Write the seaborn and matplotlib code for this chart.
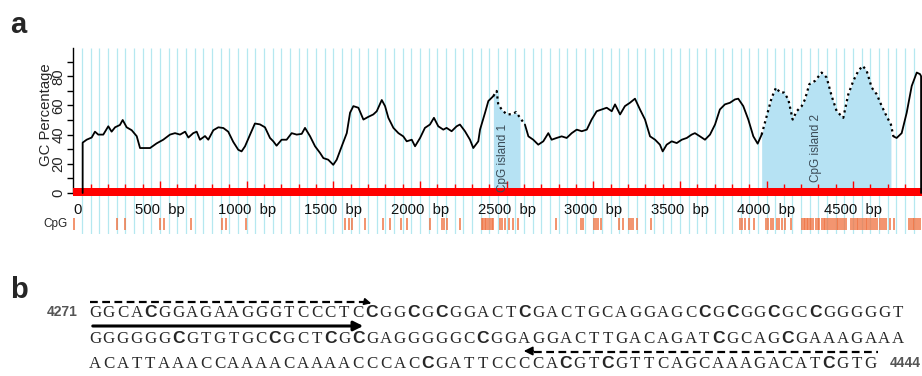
import matplotlib
matplotlib.use("Agg")
import matplotlib.pyplot as plt
import numpy as np
import pandas as pd
import seaborn as sns

# ---- data ----
# GC percentage along the sequence (bp, %GC)
gc_bp = [54, 54, 77, 106, 125, 144, 173, 202, 221, 241, 269, 285, 308, 337, 366, 385, 414, 443,
         481, 519, 558, 587, 616, 645, 664, 692, 712, 731, 760, 779, 808, 837, 866, 894, 923,
         952, 971, 991, 1020, 1048, 1077, 1106,
         1135, 1154, 1173, 1202, 1231, 1260, 1289, 1318, 1337, 1366, 1395, 1424, 1443, 1471,
         1500, 1520, 1549, 1578, 1597, 1616, 1645, 1674, 1703, 1731, 1751, 1780, 1799, 1818,
         1847, 1876, 1904, 1924, 1953, 1972, 2001, 2029, 2058, 2081, 2106, 2135, 2154, 2183,
         2212, 2231, 2260, 2289, 2308, 2337,
         2347, 2376, 2395, 2424, 2443, 2452, 2472, 2501, 2530, 2555, 2578, 2606, 2626, 2654,
         2683, 2712, 2741, 2760, 2789, 2818, 2847, 2876, 2905, 2934, 2963, 2991, 3020, 3049,
         3078, 3107, 3126, 3155, 3183, 3212, 3241, 3270, 3299, 3328, 3357, 3385, 3401, 3424,
         3453, 3482, 3511, 3540, 3568,
         3587, 3616, 3645, 3674, 3703, 3731, 3760, 3789, 3818, 3837, 3866, 3895, 3924, 3949,
         3972, 4001, 4030, 4055, 4078, 4101, 4126, 4151, 4174, 4203, 4222, 4247, 4280, 4318,
         4347, 4376, 4405, 4443, 4472, 4501, 4530, 4555, 4578, 4607, 4636, 4665, 4693, 4718,
         4732, 4751, 4780, 4809, 4838, 4867, 4886, 4892, 4892]
gc_pct = [0, 34.5, 36.5, 38, 42, 40, 40, 45.7, 42, 45, 46.6, 50, 45, 43, 38.9, 30.8, 30.8, 30.8,
          34, 36.5, 40, 41, 40, 42, 38, 41, 42, 36.5, 39, 36.5, 43, 45, 44.5, 42, 35,
          29.6, 28.5, 32, 40, 47.6, 47, 45,
          37.7, 35.4, 32.4, 36.5, 36.5, 41, 40, 40.5, 44.6, 38.9, 32, 27.4, 23.9, 22.8,
          19.3, 22.8, 32, 41, 55, 59.5, 58.4, 50.3, 52.2, 53.8, 56, 63.7, 59.5, 51.5,
          44.6, 41, 38.8, 35.4, 36.5, 32, 37.7, 44.6, 46.9, 51.5, 45.7, 43.4, 44.6, 42.3,
          45.7, 46.9, 42.3, 36.5, 30.8, 35.4,
          43.4, 55, 63, 66.4, 69.9, 60.7, 57.2, 53.8, 54, 55.4, 51.5, 46.9, 38.8, 36.5,
          33.1, 35.4, 41, 36.5, 37.7, 38.8, 37.7, 41, 43.4, 42.3, 43.4, 50.3, 56, 57.2,
          58.4, 56, 60.7, 53.8, 59.5, 61.8, 64.6, 57.2, 50.3, 38.8, 36.5, 33.1, 28.5, 33.1,
          35.4, 34.2, 36.5, 37.7, 40,
          41, 38.8, 36.5, 40, 46.9, 57.2, 60.7, 61.8, 64.1, 64.6, 59.5, 50.3, 38.8, 33.8,
          40, 52.6, 65.3, 72.2, 68.8, 68.8, 64.1, 50.3, 56, 59.5, 64.1, 74.5, 76.8, 82.5,
          79.1, 66.4, 56, 51.5, 67.6, 76.8, 83.7, 87.1, 83.7, 72.2, 67.6, 59.5, 52.6, 46.9,
          38.8, 37.7, 41, 55, 73.3, 82.5, 81.4, 80, 0]

# CpG dinucleotide positions (bp)
cpg_bp = [4, 252, 300, 500, 523, 677, 856, 882, 996,
          1568, 1590, 1610, 1683, 1785, 1826, 1890, 1924, 2058, 2126, 2140, 2154, 2231,
          2357, 2366, 2375, 2384, 2393, 2404, 2416, 2424, 2462, 2476, 2491, 2516, 2539, 2568,
          2787, 2928, 2942, 3006, 3018, 3030, 3043, 3148, 3174, 3205, 3218, 3232, 3250, 3332,
          3848, 3860, 3874, 3898, 3930, 3998, 4010, 4028, 4040, 4058, 4072, 4090, 4107, 4140,
          4205, 4214, 4222, 4231, 4240, 4249, 4258, 4268, 4283, 4296, 4305, 4318, 4330, 4340,
          4350, 4362, 4373, 4385, 4394, 4404, 4414, 4424, 4436, 4446, 4456,
          4490, 4500, 4510, 4520, 4530, 4540, 4550, 4560, 4572, 4582, 4592, 4604, 4614, 4626,
          4640, 4655, 4668, 4680, 4692,
          4713, 4738, 4822, 4832, 4843, 4853, 4864, 4876, 4888]

island_start = [2410, 3970]
island_end = [2580, 4720]
island_names = ["CpG island 1", "CpG island 2"]

bp_tick_pos = [0, 500, 1000, 1500, 2000, 2500, 3000, 3500, 4000, 4500]
bp_tick_labels = ["0", "500  bp", "1000  bp", "1500  bp", "2000  bp", "2500  bp",
                  "3000  bp", "3500  bp", "4000  bp", "4500  bp"]
gc_ticks = [0, 20, 40, 60, 80]

seq_lines = ["GGCACGGAGAAGGGTCCCTCCGGCGCGGACTCGACTGCAGGAGCCGCGGCGCCGGGGGT",
             "GGGGGGCGTGTGCCGCTCGCGAGGGGGCCGGAGGACTTGACAGATCGCAGCGAAAGAAA",
             "ACATTAAACCAAAACAAAACCCACCGATTCCCCACGTCGTTCAGCAAAGACATCGTG"]
seq_first, seq_last = "4271", "4444"

# ---- layout (pixels of the 922x376 reference) ----
W, H = 922, 376
X0, PX_BP = 73.3, 0.1733      # x pixel of 0 bp, pixels per bp
Y0, PX_PCT = 193.0, 1.46      # y pixel of 0 %, pixels per %
TOP, BOTTOM = 48, 234


def pct(y_px):
    return (Y0 - y_px) / PX_PCT


sns.set_style("white")
plt.rcParams["font.family"] = ["Liberation Sans", "DejaVu Sans"]

fig = plt.figure(figsize=(W / 100, H / 100), dpi=100)
fig.patch.set_facecolor("white")

ov = fig.add_axes([0, 0, 1, 1])
ov.set_xlim(0, W)
ov.set_ylim(H, 0)
ov.axis("off")

ax = fig.add_axes([X0 / W, 1 - BOTTOM / H, (W - X0) / W, (BOTTOM - TOP) / H])
xmax = (W - X0) / PX_BP
ax.set_xlim(0, xmax)
ax.set_ylim(pct(BOTTOM), pct(TOP))
ax.patch.set_alpha(0)

# light cyan ruler lines every 50 bp
ax.vlines(np.arange(50, xmax, 50), pct(BOTTOM), pct(TOP), color="#b5e8f0", lw=0.9, zorder=0)

df = pd.DataFrame({"bp": gc_bp, "gc": gc_pct})
in_island = np.zeros(len(df), dtype=bool)
for s, e in zip(island_start, island_end):
    m = (df.bp >= s) & (df.bp <= e)
    in_island |= m.values
    ax.fill_between(df.bp[m], 0, df.gc[m], color="#b6e2f3", lw=0, zorder=1)

# GC curve, dotted inside the islands
seg = np.concatenate([[0], np.cumsum(in_island[1:] != in_island[:-1])])
for sid in np.unique(seg):
    idx = np.where(seg == sid)[0]
    stop = min(idx[-1] + 1, len(df) - 1)
    part = df.iloc[idx[0]:stop + 1]
    dotted = in_island[idx[0]]
    sns.lineplot(data=part, x="bp", y="gc", ax=ax, color="black", estimator=None, sort=False,
                 legend=False, lw=1.6 if dotted else 1.3,
                 linestyle=(0, (1, 1.6)) if dotted else "-", zorder=4)

# red ruler bar with ticks
ax.axhspan(pct(196), pct(188), color="#ff0000", lw=0, zorder=3)
ruler = np.arange(100, xmax, 100)
ax.vlines(ruler, pct(189), [pct(180.5) if r % 500 == 0 else pct(183.5) for r in ruler],
          color="#ff0000", lw=1, zorder=3)

# CpG sites
ax.vlines(cpg_bp, pct(218), pct(230), color="#f07545", lw=1.1, zorder=2)

for s, e, name, ly in zip(island_start, island_end, island_names, [pct(158), pct(148)]):
    ax.text(s + 0.42 * (e - s), ly, name, rotation=90, ha="center", va="center",
            fontsize=8.5, color="#3a4a55", zorder=5)

for p, lab in zip(bp_tick_pos, bp_tick_labels):
    ax.text(p, pct(210), lab, ha="left" if p == 0 else "center", va="center",
            fontsize=10.7, color="#111111", clip_on=False)

for side in ["top", "right", "bottom"]:
    ax.spines[side].set_visible(False)
ax.spines["left"].set_bounds(0, pct(TOP))
ax.spines["left"].set_color("black")
ax.spines["left"].set_linewidth(1)
ax.set_xticks([])
ax.set_yticks(gc_ticks)
ax.set_yticks([10, 30, 50, 70, 90], minor=True)
ax.set_yticklabels([str(t) for t in gc_ticks], rotation=90, va="center")
ax.tick_params(axis="y", which="both", direction="out", length=4, width=1, color="black",
               labelsize=10.7, pad=1.5, left=True)
ax.set_xlabel("")
ax.set_ylabel("")

ov.text(46, 115, "GC Percentage", rotation=90, ha="center", va="center", fontsize=10.7)
ov.text(68, 224, "CpG", ha="right", va="center", fontsize=8.5)
ov.text(10, 33, "a", fontsize=21, fontweight="bold", va="baseline")
ov.text(10, 298, "b", fontsize=21, fontweight="bold", va="baseline")

# ---- panel b: sequence ----
SX, PITCH = 88, 13.85
baselines = [317, 343, 368]
for line, base in zip(seq_lines, baselines):
    for i, ch in enumerate(line):
        cpg = ch == "C" and i + 1 < len(line) and line[i + 1] == "G"
        if cpg:
            ov.text(SX + PITCH * (i + 0.5), base, ch, ha="center", va="baseline",
                    fontsize=12.5, fontweight="bold", family=["Liberation Sans", "DejaVu Sans"])
        else:
            ov.text(SX + PITCH * (i + 0.5), base, ch, ha="center", va="baseline",
                    fontsize=12.2, family=["Liberation Serif", "DejaVu Serif"], color="#2a2a2a")

ov.text(78, 316, seq_first, ha="right", va="baseline", fontsize=10, fontweight="bold", color="#555555")
ov.text(890, 367, seq_last, ha="left", va="baseline", fontsize=10, fontweight="bold", color="#555555")

# primer arrows
ov.plot([90, 366], [302, 302], color="black", lw=1.6, linestyle=(0, (3.5, 2)))
ov.annotate("", xy=(374, 304), xytext=(366, 302),
            arrowprops=dict(arrowstyle="-|>", color="black", lw=1.2, mutation_scale=10))
ov.annotate("", xy=(366, 326), xytext=(90, 326),
            arrowprops=dict(arrowstyle="-|>", color="black", lw=2.2, mutation_scale=14))
ov.plot([534, 878], [352, 352], color="black", lw=1.6, linestyle=(0, (3.5, 2)))
ov.annotate("", xy=(521, 351), xytext=(536, 351),
            arrowprops=dict(arrowstyle="-|>", color="black", lw=1.2, mutation_scale=13))
ov.annotate("", xy=(543, 385), xytext=(878, 385),
            arrowprops=dict(arrowstyle="-|>", color="black", lw=2.2, mutation_scale=14),
            annotation_clip=False)

fig.savefig("out.png", dpi=100)
